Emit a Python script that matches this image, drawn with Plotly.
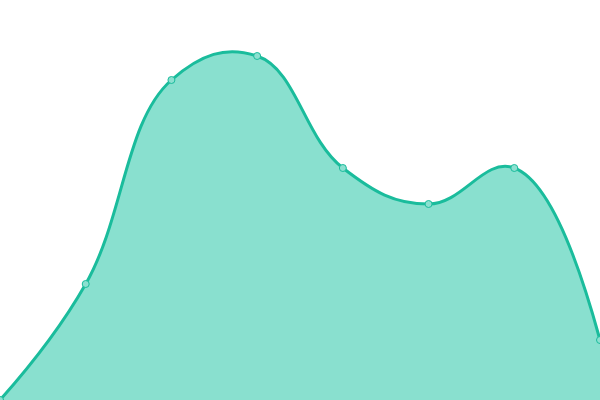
import plotly.graph_objects as go

# valores (escala 0..100)
x = [0, 1, 2, 3, 4, 5, 6, 7]
y = [0, 29, 80, 86, 58, 49, 58, 15]

line_color = '#1abc9c'
fill_color = '#89e0cf'

fig = go.Figure(data=[go.Scatter(
    x=x, y=y,
    mode='lines+markers',
    line=dict(color=line_color, width=3, shape='spline', smoothing=1.2),
    fill='tozeroy',
    fillcolor=fill_color,
    marker=dict(size=7, color='#8ce0d0', line=dict(color=line_color, width=1)),
)])

fig.update_layout(
    width=600,
    height=400,
    margin=dict(l=0, r=0, t=0, b=0),
    paper_bgcolor='white',
    plot_bgcolor='white',
    showlegend=False,
    xaxis=dict(visible=False, range=[0, 7]),
    yaxis=dict(visible=False, range=[0, 100]),
)

# tira a margem do body pra ficar colado no canto
fig.write_html('out.html', config={'displayModeBar': False},
               post_script="document.body.style.margin='0';")
